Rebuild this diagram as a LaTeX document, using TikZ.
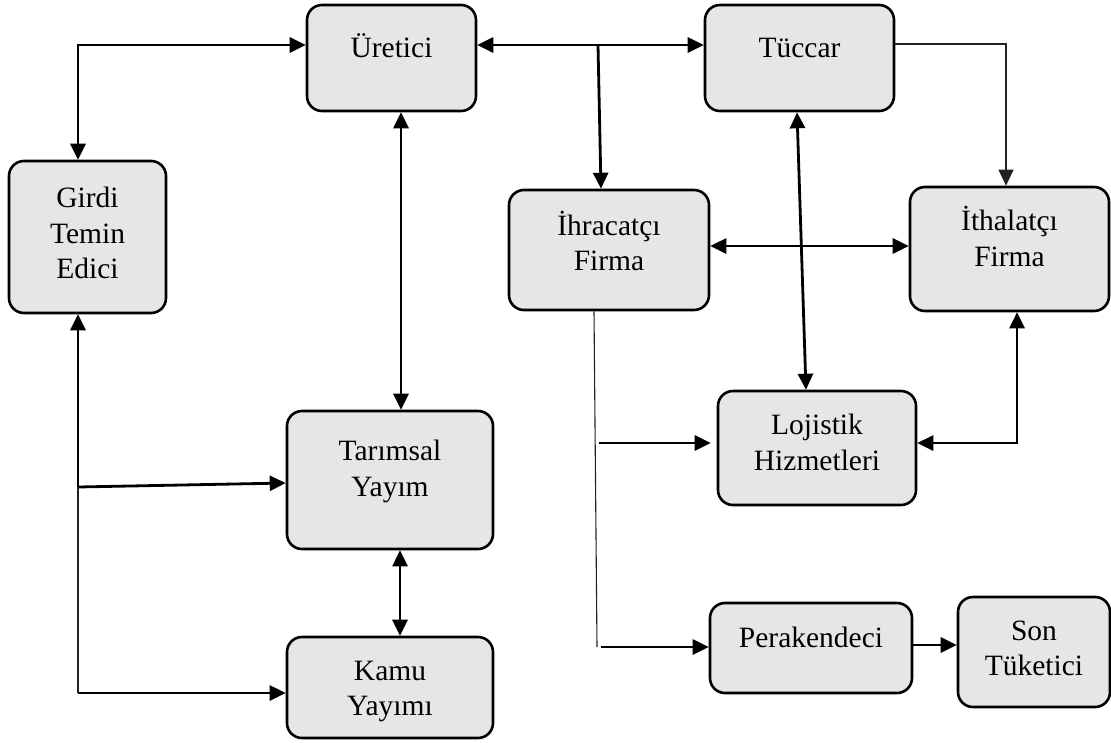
\documentclass[tikz,border=0pt]{standalone}
\usepackage{fontspec}
\setmainfont{Liberation Serif}
\usetikzlibrary{arrows.meta}
\definecolor{boxgray}{HTML}{E6E6E6}
\definecolor{thingray}{HTML}{222222}
\begin{document}
\begin{tikzpicture}[x=1pt,y=-1pt,
  box/.style={draw=black, line width=2.6pt, fill=boxgray, rounded corners=15pt, inner sep=0pt},
  lbl/.style={anchor=base, inner sep=0pt, font=\fontsize{29.5}{36}\selectfont},
  conn/.style={line width=2.8pt, draw=black},
  thinline/.style={line width=1.1pt, draw=thingray},
  >={Triangle[length=16pt,width=15pt]}
]
\useasboundingbox (0,0) rectangle (1111,742);

% boxes
\node[box, minimum width=169pt, minimum height=106pt] (ure) at (391.5,58) {};
\node[box, minimum width=189pt, minimum height=106pt] (tuc) at (799.5,58) {};
\node[box, minimum width=157pt, minimum height=152pt] (gir) at (87.5,237) {};
\node[box, minimum width=200pt, minimum height=120pt] (ihr) at (609,250) {};
\node[box, minimum width=199pt, minimum height=124pt] (ith) at (1009.5,249) {};
\node[box, minimum width=206pt, minimum height=138pt] (tar) at (390,480) {};
\node[box, minimum width=198pt, minimum height=114pt] (loj) at (817,448) {};
\node[box, minimum width=206pt, minimum height=101pt] (kam) at (390,687.5) {};
\node[box, minimum width=202pt, minimum height=90pt] (per) at (811,648) {};
\node[box, minimum width=152pt, minimum height=110pt] (son) at (1034,652) {};

% labels
\node[lbl] (ure-t) at (391.5,57) {Üretici};
\node[lbl] (tuc-t) at (799.5,57) {Tüccar};
\node[lbl] (gir-t1) at (87.5,207) {Girdi};
\node[lbl] (gir-t2) at (87.5,243) {Temin};
\node[lbl] (gir-t3) at (87.5,278) {Edici};
\node[lbl] (ihr-t1) at (609,235) {İhracatçı};
\node[lbl] (ihr-t2) at (609,270) {Firma};
\node[lbl] (ith-t1) at (1009.5,230) {İthalatçı};
\node[lbl] (ith-t2) at (1009.5,266) {Firma};
\node[lbl] (tar-t1) at (390,460) {Tarımsal};
\node[lbl] (tar-t2) at (390,496) {Yayım};
\node[lbl] (kam-t1) at (390,680) {Kamu};
\node[lbl] (kam-t2) at (390,715) {Yayımı};
\node[lbl] (loj-t1) at (817,434) {Lojistik};
\node[lbl] (loj-t2) at (817,470) {Hizmetleri};
\node[lbl] (per-t) at (811,647) {Perakendeci};
\node[lbl] (son-t1) at (1034,640) {Son};
\node[lbl] (son-t2) at (1034,675) {Tüketici};

% connectors
\draw[conn,<->] ([yshift=13pt]ure.west) -| ([xshift=-9.5pt]gir.north);
\draw[conn,<->] ([yshift=13pt]ure.east) -- ([yshift=13pt]tuc.west);
\coordinate (br1) at (598,45);
\draw[conn,->] (br1) -- ([xshift=-8pt]ihr.north);
\draw[conn,<->] ([xshift=9.5pt]ure.south) -- ([xshift=11pt]tar.north);
\draw[conn,<->] ([xshift=10pt]tar.south) -- ([xshift=10pt]kam.north);
\draw[thinline,->] ([yshift=14pt]tuc.east) -| ([xshift=-3.5pt]ith.north);
\draw[conn,<->] ([xshift=-2.5pt]tuc.south) -- ([xshift=-11pt]loj.north);
\draw[conn,<->] ([yshift=4pt]ihr.east) -- ([yshift=3pt]ith.west);
\draw[conn,<->] ([xshift=7.5pt]ith.south) |- ([yshift=5pt]loj.west -| loj.east);
\coordinate (ib) at (597,647);
\draw[thinline] ([xshift=-15pt]ihr.south) -- (ib);
\coordinate (il) at (599,443);
\draw[conn,->,shorten >=6pt] (il) -- (il -| loj.west);
\coordinate (ip) at (601,647);
\draw[conn,->] (ip) -- (ip -| per.west);
\draw[conn,->] ([yshift=3pt]per.east) -- ([yshift=3pt]per.east -| son.west);
\coordinate (gj) at (78,487);
\coordinate (gk) at (78,693);
\draw[conn,->] (gj) -- ([xshift=-9.5pt]gir.south);
\draw[conn,->] (gj) -- ([yshift=-3pt]tar.west);
\draw[thinline] (gj) -- (gk);
\draw[conn,->] (gk) -- (gk -| kam.west);
\end{tikzpicture}
\end{document}
